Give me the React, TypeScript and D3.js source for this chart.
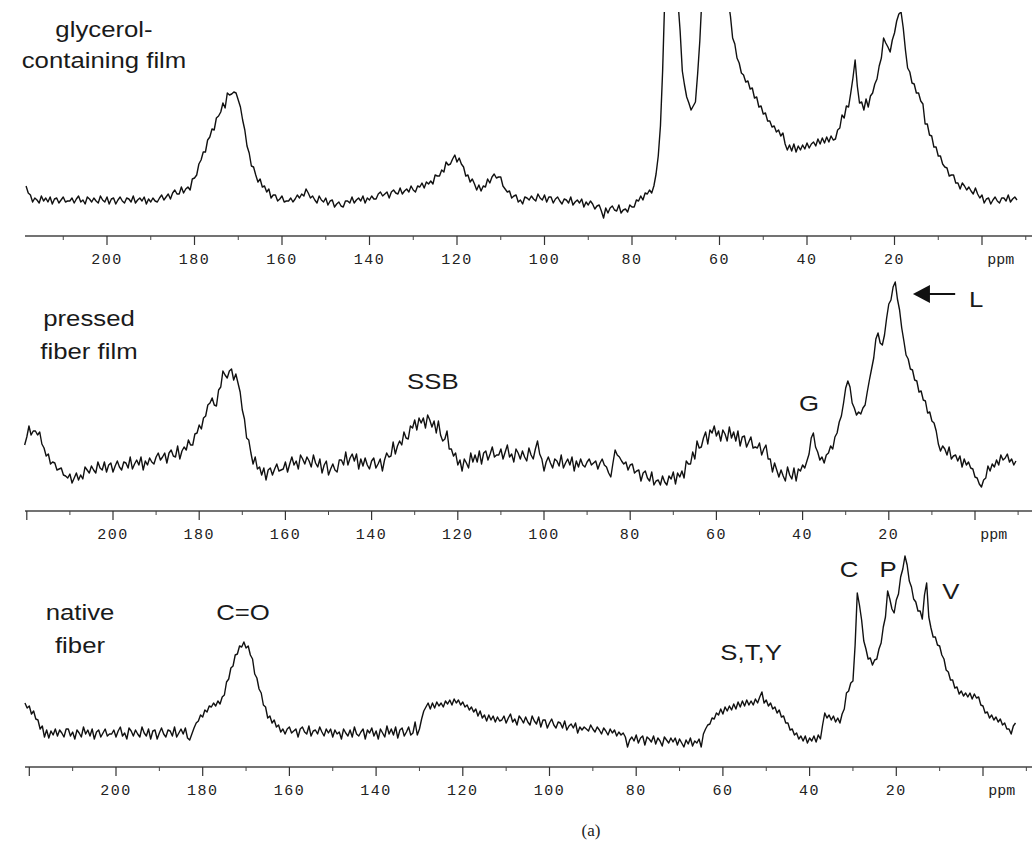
import React from 'react';
import * as d3 from 'd3';

// ---------- DATA (intensity above each panel's baseline, arbitrary units) ----------
const ppmStep = 0.5;

// glycerol-containing film, from 218.5 ppm down to -8 ppm
const glycerolStart = 218.5;
const glycerolFilm = [
  50,43,41,34,38,36,33,40,35,38,34,39,32,37,38,33,36,39,34,35,
  35,38,33,37,40,34,36,32,39,37,34,38,35,33,40,36,34,39,32,37,
  38,32,36,39,35,33,38,37,34,40,33,36,38,35,39,32,37,34,38,35,
  34,38,41,36,39,42,37,43,46,42,42,49,43,47,49,46,57,58,61,72,
  76,84,84,96,99,107,106,118,120,124,133,128,143,141,142,144,143,136,129,116,
  106,90,83,70,69,61,54,57,49,50,44,47,38,41,41,35,37,40,34,35,
  35,38,34,37,41,38,42,40,47,43,38,40,36,33,40,36,34,38,31,35,
  36,29,32,34,30,29,35,35,33,39,33,36,38,35,40,33,38,36,40,37,
  37,42,44,40,42,44,38,44,46,43,42,48,42,45,47,44,50,46,44,50,
  49,53,48,54,52,55,52,61,60,60,66,64,74,71,72,77,81,74,78,72,
  69,60,61,54,57,52,46,51,45,50,49,57,53,59,62,58,59,59,50,47,
  44,45,38,40,41,34,36,32,39,38,36,40,37,35,42,38,36,41,34,39,
  39,33,37,39,35,32,37,36,33,39,31,34,36,33,37,29,34,31,35,32,
  27,30,31,25,18,28,23,28,30,26,25,31,23,26,27,24,31,29,29,36,
  35,40,36,43,42,46,43,50,62,80,110,165,240,290,310,310,290,260,235,205,
  165,151,139,133,126,130,134,162,195,240,290,330,340,340,335,325,310,295,280,265,
  250,235,220,198,192,178,173,163,161,154,155,147,148,138,139,129,130,122,123,115,
  115,109,110,104,106,100,103,92,86,91,85,92,84,90,86,91,87,93,88,92,
  94,90,97,92,98,93,99,94,100,96,97,106,108,121,118,130,129,143,158,176,
  150,133,134,126,137,129,140,143,152,157,170,178,198,193,189,184,196,203,215,222,
  224,208,186,168,164,153,152,143,143,135,132,112,112,101,100,89,89,80,80,72,
  69,68,60,61,61,53,53,47,53,50,46,49,45,42,48,42,38,41,33,37,
  38,32,36,39,35,33,38,38,35,41,34,37,39,36,
];

// pressed fiber film, from 220.5 ppm down to -9.5 ppm
const pressedStart = 220.5;
const pressedFilm = [
  66,74,85,76,80,80,76,79,67,63,55,57,47,49,48,41,42,43,36,35,
  33,37,28,33,38,31,36,32,44,41,38,45,41,38,49,43,41,49,39,46,
  48,39,45,50,44,41,49,48,43,54,42,47,51,46,54,41,50,46,53,49,
  47,54,58,51,54,58,48,58,61,55,54,65,52,60,64,61,71,66,66,77,
  78,86,82,93,95,106,108,113,106,105,121,124,140,136,133,140,142,131,137,128,
  119,101,92,73,71,58,47,54,42,44,36,43,31,41,43,36,42,47,40,41,
  42,49,39,47,54,46,50,42,56,52,47,54,50,44,56,48,44,52,38,46,
  50,36,42,47,41,39,51,51,46,59,46,53,57,50,57,42,52,45,53,46,
  42,50,53,43,47,52,40,51,58,54,55,69,57,65,70,66,79,73,72,85,
  83,91,81,93,88,93,83,96,91,84,90,78,90,76,70,72,80,62,62,55,
  58,46,51,40,52,48,43,58,49,56,49,60,47,58,60,51,57,64,54,56,
  56,62,52,59,66,54,57,49,62,58,52,60,54,50,63,56,52,62,70,57,
  52,40,49,54,48,43,52,50,45,56,43,48,52,46,54,40,50,44,52,46,
  44,49,52,46,48,50,42,48,52,46,44,38,34,48,61,56,54,50,47,49,
  41,46,47,38,40,41,30,38,40,33,30,39,26,30,31,26,35,29,26,35,
  32,39,27,38,34,40,33,50,47,47,59,52,70,63,64,73,79,67,81,78,
  85,75,80,70,81,77,70,84,73,79,70,80,65,74,75,64,69,74,63,64,
  63,68,56,62,66,52,52,39,48,41,34,41,35,30,44,36,32,43,30,42,
  40,46,43,50,57,73,78,64,59,51,54,48,56,58,65,62,74,78,89,95,
  108,123,130,124,108,103,96,99,97,103,106,119,131,142,153,172,178,168,166,176,
  193,207,211,224,229,212,201,183,170,156,152,142,141,131,130,119,120,111,110,98,
  99,90,88,80,67,60,65,62,56,64,52,55,56,50,55,44,52,46,49,43,
  42,34,33,27,24,31,33,45,40,47,44,51,46,56,51,53,57,49,52,46,50,
];

// native fiber, from 221 ppm down to -7.5 ppm
const nativeStart = 221;
const nativeFiber = [
  64,59,61,53,56,48,47,38,41,30,37,29,36,32,38,31,37,34,30,38,
  38,31,35,28,37,34,30,40,33,37,31,38,28,35,37,30,34,38,31,33,
  33,37,30,36,40,31,34,28,39,36,31,37,33,30,40,34,31,38,28,36,
  37,28,34,39,33,30,37,36,31,40,30,34,38,33,39,29,27,33,39,44,
  46,52,50,57,55,61,60,64,61,66,63,70,72,85,88,99,101,112,113,121,
  120,125,119,121,112,108,93,89,78,74,62,60,49,51,44,47,40,42,35,38,
  33,38,40,34,36,38,30,38,40,35,33,41,31,36,37,33,40,35,31,38,
  34,38,30,37,33,35,28,38,34,31,37,30,40,33,31,35,38,28,37,34,
  39,31,36,28,38,34,30,41,33,38,32,40,29,37,39,31,35,40,32,34,
  45,32,38,48,56,60,64,58,64,59,65,61,64,60,66,63,67,62,68,64,
  67,62,65,60,62,57,60,55,58,51,56,49,52,46,52,47,51,45,50,46,
  47,51,44,49,53,45,48,42,51,48,44,50,45,42,51,46,43,50,40,47,
  47,39,44,48,42,39,45,44,39,46,37,41,43,39,44,34,40,37,40,38,
  36,42,38,35,40,37,33,39,36,32,38,34,37,31,35,32,34,30,20,27,
  30,26,32,24,29,31,22,30,28,25,31,23,29,26,21,30,27,24,29,25,
  29,22,28,24,20,27,23,29,21,26,24,28,20,33,38,42,43,49,48,54,
  52,58,53,60,56,61,57,63,58,65,60,66,61,67,62,66,62,68,64,70,
  75,64,67,61,64,58,60,54,57,50,51,44,44,37,38,32,34,28,31,26,
  31,24,29,26,31,25,32,28,42,54,49,52,47,51,45,49,44,53,58,74,
  76,84,86,122,174,162,147,126,118,108,109,102,107,108,118,124,140,150,176,168,
  158,154,167,173,190,198,211,202,186,180,168,165,156,156,148,172,184,150,139,130,
  130,122,121,112,108,97,95,87,87,79,80,73,76,71,74,70,74,68,73,69,
  70,62,61,54,55,49,52,47,50,45,48,42,44,38,38,33,41,44,
];

const majorTicks = [220, 200, 180, 160, 140, 120, 100, 80, 60, 40, 20, 0];
const minorTicks = [210, 190, 170, 150, 130, 110, 90, 70, 50, 30, 10, -10];
const tickLabels = ['200', '180', '160', '140', '120', '100', '80', '60', '40', '20'];
const unitLabel = 'ppm';

const panelNames = [
  ['glycerol-', 'containing film'],
  ['pressed', 'fiber film'],
  ['native', 'fiber'],
];

// peak annotations: [panel index, text, ppm position, baseline y]
const annotations: [number, string, number, number][] = [
  [1, 'SSB', 125.8, 389],
  [1, 'G', 38.5, 411],
  [2, 'C=O', 170.7, 620],
  [2, 'S,T,Y', 53.5, 660],
  [2, 'C', 30.9, 577],
  [2, 'P', 21.9, 577],
  [2, 'V', 7.4, 599],
];

// ---------- LAYOUT ----------
const W = 1032;
const H = 844;
const AX_LEFT = 25;
const AX_RIGHT = 1032;

const panels = [
  { values: glycerolFilm, start: glycerolStart, axisY: 236, x0: 982, k: 4.375, nameX: 104, nameY: [37, 68], clipTop: 12 },
  { values: pressedFilm, start: pressedStart, axisY: 511, x0: 975, k: 4.31, nameX: 89, nameY: [326, 359], clipTop: 0 },
  { values: nativeFiber, start: nativeStart, axisY: 767, x0: 983, k: 4.335, nameX: 80, nameY: [620, 653], clipTop: 0 },
];

const sansFont = "'Liberation Sans', Arial, Helvetica, sans-serif";
const monoFont = "'Liberation Mono', 'Courier New', monospace";

function StretchText({ x, y, children, anchor = 'middle', size = 23 }: any) {
  return (
    <text
      transform={`translate(${x},${y}) scale(1.12,1)`}
      textAnchor={anchor}
      fontFamily={sansFont}
      fontSize={size}
      fill="#1a1a1a"
    >
      {children}
    </text>
  );
}

function Panel({ p, idx }: any) {
  const x = d3.scaleLinear().domain([0, 200]).range([p.x0, p.x0 - 200 * p.k]);
  const y = d3.scaleLinear().domain([0, 100]).range([p.axisY, p.axisY - 100]);
  const pts: [number, number][] = p.values.map((v: number, i: number) => [p.start - i * ppmStep, v]);
  const line = d3
    .line<[number, number]>()
    .x((d) => x(d[0]))
    .y((d) => y(d[1]));
  const inRange = (t: number) => x(t) >= AX_LEFT - 0.5 && x(t) <= AX_RIGHT;
  const clipId = `clip${idx}`;
  return (
    <g>
      <defs>
        <clipPath id={clipId}>
          <rect x={0} y={p.clipTop} width={W} height={H} />
        </clipPath>
      </defs>
      <path d={line(pts) || ''} fill="none" stroke="#111" strokeWidth={1.4} strokeLinejoin="round" clipPath={`url(#${clipId})`} />
      {/* axis */}
      <line x1={AX_LEFT} x2={AX_RIGHT} y1={p.axisY} y2={p.axisY} stroke="#444" strokeWidth={1.5} />
      {majorTicks.filter(inRange).map((t) => (
        <line key={'M' + t} x1={x(t)} x2={x(t)} y1={p.axisY} y2={p.axisY + 9} stroke="#333" strokeWidth={1.2} />
      ))}
      {minorTicks.filter(inRange).map((t) => (
        <line key={'m' + t} x1={x(t)} x2={x(t)} y1={p.axisY} y2={p.axisY + 4} stroke="#444" strokeWidth={1} />
      ))}
      {tickLabels.map((lab) => (
        <text
          key={lab}
          x={x(+lab)}
          y={p.axisY + 28}
          textAnchor="middle"
          fontFamily={monoFont}
          fontSize={15}
          letterSpacing={1.5}
          fill="#222"
        >
          {lab}
        </text>
      ))}
      <text x={x(-1.2)} y={p.axisY + 28} fontFamily={monoFont} fontSize={15} fill="#222">
        {unitLabel}
      </text>
      {/* sample name */}
      {panelNames[idx].map((s: string, j: number) => (
        <StretchText key={s} x={p.nameX} y={p.nameY[j]}>
          {s}
        </StretchText>
      ))}
      {annotations
        .filter((a) => a[0] === idx)
        .map((a) => (
          <StretchText key={a[1]} x={x(a[2])} y={a[3]}>
            {a[1]}
          </StretchText>
        ))}
      {idx === 1 && (
        <g>
          <polygon
            points={`${x(14.4)},294 ${x(14.4) + 17},285 ${x(14.4) + 17},303`}
            fill="#111"
          />
          <line x1={x(14.4) + 16} x2={x(4.6)} y1={294} y2={294} stroke="#111" strokeWidth={2} />
          <StretchText x={x(1.4)} y={307} anchor="start">
            L
          </StretchText>
        </g>
      )}
    </g>
  );
}

export default function App() {
  return (
    <svg
      width={W}
      height={H}
      viewBox={`0 0 ${W} ${H}`}
      style={{ position: 'absolute', left: 0, top: 0, background: '#fff' }}
    >
      <rect x={0} y={0} width={W} height={H} fill="#fff" />
      {panels.map((p, i) => (
        <Panel key={i} p={p} idx={i} />
      ))}
      <text x={591} y={836} textAnchor="middle" fontFamily="'Liberation Serif', 'Times New Roman', serif" fontSize={17} fill="#222">
        (a)
      </text>
    </svg>
  );
}
